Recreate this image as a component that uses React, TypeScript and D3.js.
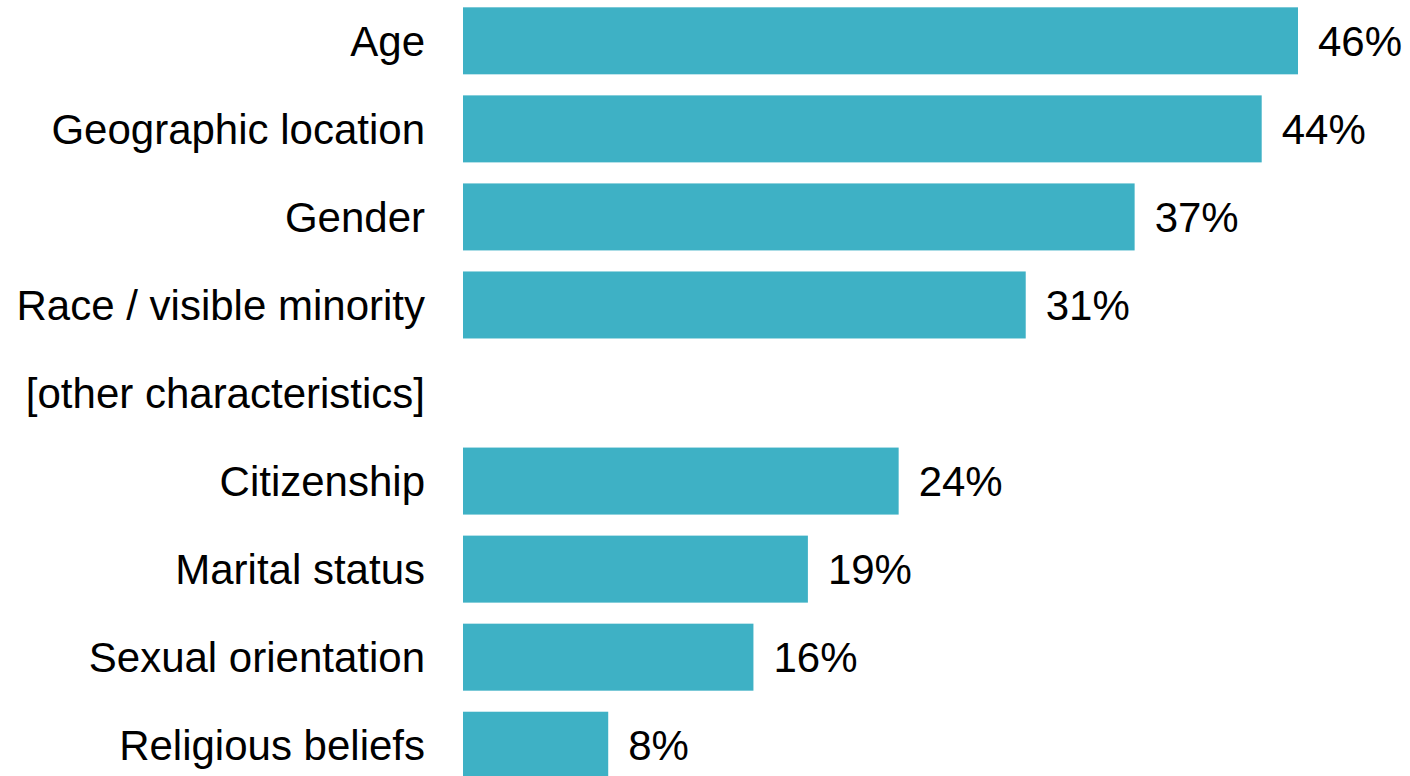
import React, { useEffect, useRef } from "react";
import * as d3 from "d3";

const categories = [
  "Age",
  "Geographic location",
  "Gender",
  "Race / visible minority",
  "[other characteristics]",
  "Citizenship",
  "Marital status",
  "Sexual orientation",
  "Religious beliefs",
];
const values: (number | null)[] = [46, 44, 37, 31, null, 24, 19, 16, 8];

const W = 1410;
const H = 776;

export default function App() {
  const ref = useRef<SVGSVGElement>(null);
  useEffect(() => {
    document.body.style.margin = "0";
    const svg = d3.select(ref.current);
    svg.selectAll("*").remove();

    const x = d3.scaleLinear().domain([0, 46]).range([463, 1298]);
    const y = d3
      .scaleBand<string>()
      .domain(categories)
      .range([-3.2, 789.25])
      .paddingInner(0.239)
      .paddingOuter(0.1195);

    const rows = categories.map((c, i) => ({ c, v: values[i] }));

    svg
      .selectAll("rect.bar")
      .data(rows.filter((d) => d.v != null))
      .join("rect")
      .attr("class", "bar")
      .attr("x", x(0))
      .attr("y", (d) => y(d.c)!)
      .attr("width", (d) => x(d.v as number) - x(0))
      .attr("height", y.bandwidth())
      .attr("fill", "#3EB1C5");

    svg
      .selectAll("text.cat")
      .data(rows)
      .join("text")
      .attr("class", "cat")
      .attr("x", 425)
      .attr("y", (d) => y(d.c)! + y.bandwidth() / 2)
      .attr("dy", "0.36em")
      .attr("text-anchor", "end")
      .attr("font-family", "'Liberation Sans', Arial, sans-serif")
      .attr("font-size", 42)
      .attr("fill", "#000")
      .text((d) => d.c);

    svg
      .selectAll("text.val")
      .data(rows.filter((d) => d.v != null))
      .join("text")
      .attr("class", "val")
      .attr("x", (d) => x(d.v as number) + 20)
      .attr("y", (d) => y(d.c)! + y.bandwidth() / 2)
      .attr("dy", "0.36em")
      .attr("text-anchor", "start")
      .attr("font-family", "'Liberation Sans', Arial, sans-serif")
      .attr("font-size", 42)
      .attr("fill", "#000")
      .text((d) => `${d.v}%`);
  }, []);

  return (
    <svg
      ref={ref}
      width={W}
      height={H}
      style={{ position: "absolute", left: 0, top: 0, background: "#fff" }}
    />
  );
}
